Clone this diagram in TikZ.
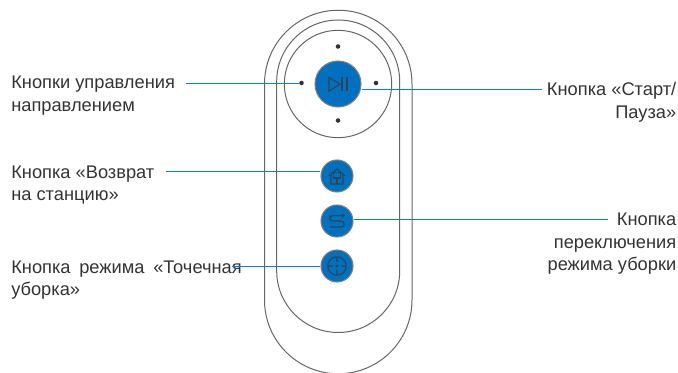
\documentclass[tikz,border=0pt]{standalone}
\usepackage{fontspec}
\setmainfont{Liberation Sans}
\definecolor{btnblue}{HTML}{0070BF}
\definecolor{leaderblue}{HTML}{1080CC}
\definecolor{icongrey}{HTML}{2F4358}
\definecolor{bodygrey}{HTML}{666666}
\definecolor{txtgrey}{HTML}{333333}
\tikzset{
	btn/.style={circle, draw=gray, line width=0.8pt, fill=btnblue, inner sep=0pt, minimum size=32*0.75pt},
	dirdot/.style={circle, fill=black!80, inner sep=0pt, minimum size=3.4pt},
	leader/.style={leaderblue, line width=0.75pt},
	icon/.style={icongrey, line width=0.8pt},
	lbl/.style={text=txtgrey, font=\fontsize{13.7pt}{16.9pt}\selectfont, inner sep=0pt}
}
\begin{document}
\begin{tikzpicture}[x=0.75pt, y=-0.75pt]
	\useasboundingbox (0, 0) rectangle (678, 373);
	% body
	\draw[bodygrey, line width=0.75pt] (264.5, 84) arc[start angle=180, end angle=0, radius=73.75*0.75pt] -- (412, 300) arc[start angle=360, end angle=180, radius=73.75*0.75pt] -- cycle;
	\draw[bodygrey, line width=0.75pt] (276.7, 81.5) arc[start angle=180, end angle=0, radius=61.5*0.75pt] -- (399.7, 271) arc[start angle=360, end angle=180, radius=61.5*0.75pt] -- cycle;
	\node[circle, draw=bodygrey, line width=0.75pt, inner sep=0pt, minimum size=107.4*0.75pt] (ring) at (338, 84) {};
	% buttons
	\node[btn, minimum size=46*0.75pt] (playbtn) at (338, 84) {};
	\node[btn] (homebtn) at (337, 176) {};
	\node[btn] (modebtn) at (337, 221) {};
	\node[btn] (spotbtn) at (337, 266) {};
	\foreach \name/\x/\y in {dirn/338/46.5, dirs/338/120.5, dirw/301.5/83, dire/376/83}
		\node[dirdot] (\name) at (\x, \y) {};
	% icons
	\draw[icon] (329, 77.5) -- (329, 91) -- (340, 84.2) -- cycle;
	\draw[icon] (342, 77.5) -- (342, 91) (347, 77.5) -- (347, 91);
	\draw[icon] (329, 175.7) -- (337, 169) -- (345, 175.7) (331, 174.5) -- (331, 184) -- (343, 184) -- (343, 174.5);
	\draw[icon] (333.8, 172.8) rectangle (340.2, 178) (337, 178) -- (337, 184);
	\draw[icon, rounded corners=2pt] (344, 215.7) -- (330, 215.7) -- (330, 221) -- (344, 221) -- (344, 227) -- (330, 227);
	\draw[icon] (342, 214) -- (344, 215.7) -- (342, 217.4);
	\draw[icon] (337, 266) circle[radius=9.2*0.75pt] (337, 256.8) -- (337, 262) (337, 270) -- (337, 275.2) (327.8, 266) -- (333, 266) (341, 266) -- (346.2, 266);
	\fill[icongrey] (337, 266) circle[radius=1.5*0.75pt];
	% labels
	\node[lbl, anchor=base west, align=left] (dirlbl) at (11, 111.5) {Кнопки управления\\направлением};
	\node[lbl, anchor=base west, align=left] (homelbl) at (11, 201) {Кнопка «Возврат\\на станцию»};
	\node[lbl, anchor=base west, align=left] (spotlbl) at (11, 296) {Кнопка\hspace{0.2em} режима\hspace{0.2em} «Точечная\\уборка»};
	\node[lbl, anchor=base east, align=right] (playlbl) at (676.5, 118.5) {Кнопка «Старт/\\Пауза»};
	\node[lbl, anchor=base east, align=right] (modelbl) at (676.5, 270.7) {Кнопка\\переключения\\режима уборки};
	% leaders
	\coordinate (dirend) at (186, 84);
	\coordinate (homeend) at (166, 172);
	\coordinate (spotend) at (232, 267);
	\coordinate (playend) at (541.5, 90);
	\coordinate (modeend) at (607.5, 220);
	\draw[leader] (dirend) -- (dirend -| dirw.west);
	\draw[leader] (homeend) -- (homeend -| homebtn.west);
	\draw[leader] (spotend) -- (spotend -| spotbtn.west);
	\draw[leader] (playend) -- (playend -| playbtn.east);
	\draw[leader] (modeend) -- (modeend -| modebtn.east);
\end{tikzpicture}
\end{document}
